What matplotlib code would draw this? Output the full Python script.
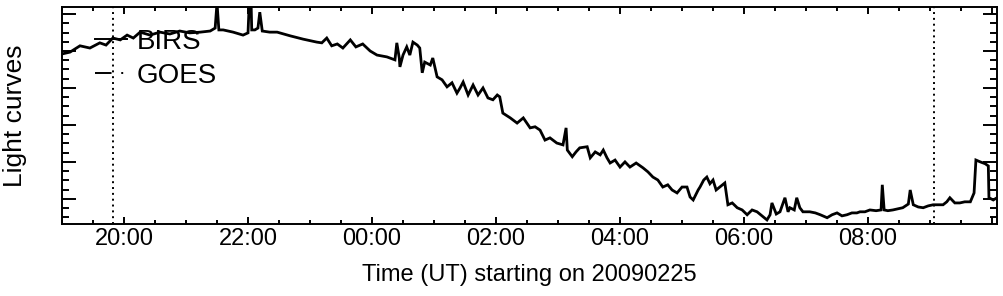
import numpy as np
import matplotlib
matplotlib.use('Agg')
import matplotlib.pyplot as plt
from matplotlib.ticker import MultipleLocator, FuncFormatter
from matplotlib.lines import Line2D

plt.rcParams['font.family'] = ['Liberation Sans', 'DejaVu Sans']

# время в часах от 00:00 UT 2009-02-25 (после 24 - следующие сутки)
t_birs = [19.00, 19.13, 19.29, 19.45, 19.61, 19.71, 19.82, 19.94, 20.05, 20.15,
          20.26, 20.42, 20.58, 20.74, 20.90, 21.06, 21.23, 21.39, 21.47, 21.50,
          21.53, 21.60, 21.76, 21.92, 22.00, 22.02, 22.05, 22.06, 22.11, 22.16,
          22.19, 22.23, 22.35, 22.47, 22.68, 22.89, 23.11, 23.19, 23.27, 23.35,
          23.44, 23.53, 23.65, 23.74, 23.85, 23.97, 24.08, 24.24, 24.37, 24.40,
          24.44, 24.45, 24.50, 24.56, 24.61, 24.66, 24.73, 24.77, 24.81, 24.85,
          24.94, 24.98, 25.05, 25.13, 25.21, 25.29, 25.37, 25.42, 25.47, 25.55,
          25.63, 25.71, 25.79, 25.87, 25.95, 26.02, 26.06, 26.11, 26.23, 26.34,
          26.44, 26.55, 26.63, 26.71, 26.79, 26.87, 26.98, 27.08, 27.13, 27.15,
          27.23, 27.29, 27.35, 27.47, 27.52, 27.60, 27.68, 27.73, 27.79, 27.84,
          27.92, 28.00, 28.08, 28.16, 28.26, 28.37, 28.45, 28.53, 28.61, 28.69,
          28.77, 28.84, 28.92, 29.00, 29.08, 29.13, 29.18, 29.26, 29.29, 29.35,
          29.40, 29.45, 29.50, 29.55, 29.61, 29.69, 29.74, 29.81, 29.89, 29.97,
          30.05, 30.13, 30.21, 30.29, 30.37, 30.42, 30.45, 30.52, 30.58, 30.66,
          30.71, 30.74, 30.81, 30.85, 30.90, 30.95, 31.06, 31.15, 31.23, 31.34,
          31.42, 31.50, 31.58, 31.66, 31.74, 31.82, 31.87, 31.95, 32.03, 32.13,
          32.21, 32.23, 32.26, 32.32, 32.40, 32.48, 32.56, 32.65, 32.68, 32.73,
          32.81, 32.89, 32.97, 33.05, 33.13, 33.21, 33.27, 33.32, 33.40, 33.48,
          33.56, 33.65, 33.71, 33.74, 33.81, 33.89, 33.94, 33.95, 34.02, 34.08]

f_birs = [4.92, 4.97, 5.14, 5.08, 5.22, 5.16, 5.35, 5.30, 5.43, 5.35,
          5.51, 5.43, 5.51, 5.46, 5.54, 5.49, 5.51, 5.54, 5.62, 6.30,
          5.57, 5.57, 5.51, 5.43, 5.49, 6.30, 6.30, 5.57, 5.57, 5.62,
          6.05, 5.54, 5.51, 5.51, 5.41, 5.32, 5.24, 5.22, 5.35, 5.14,
          5.19, 5.08, 5.30, 5.11, 5.19, 5.00, 4.89, 4.84, 4.76, 5.22,
          4.81, 4.57, 4.89, 5.11, 4.89, 5.24, 5.16, 5.08, 4.41, 4.70,
          4.62, 4.81, 4.30, 4.22, 4.03, 4.14, 3.86, 4.00, 4.16, 3.81,
          4.08, 3.81, 4.00, 3.73, 3.68, 3.81, 3.76, 3.32, 3.19, 3.05,
          3.19, 2.92, 2.95, 2.86, 2.59, 2.65, 2.51, 2.46, 2.92, 2.32,
          2.14, 2.27, 2.38, 2.41, 2.11, 2.27, 2.19, 2.32, 2.11, 1.97,
          2.05, 1.86, 2.00, 1.86, 1.97, 1.84, 1.73, 1.59, 1.51, 1.32,
          1.38, 1.24, 1.16, 1.32, 1.32, 1.05, 0.97, 1.24, 1.32, 1.51,
          1.59, 1.41, 1.51, 1.24, 1.32, 1.43, 0.84, 0.89, 0.76, 0.70,
          0.57, 0.70, 0.65, 0.54, 0.43, 0.57, 0.89, 0.59, 0.65, 1.03,
          0.65, 0.76, 0.70, 1.03, 0.76, 0.65, 0.65, 0.62, 0.57, 0.49,
          0.57, 0.62, 0.54, 0.57, 0.62, 0.62, 0.65, 0.65, 0.70, 0.68,
          0.70, 1.38, 0.70, 0.68, 0.70, 0.73, 0.76, 0.86, 1.24, 0.84,
          0.78, 0.76, 0.81, 0.84, 0.84, 0.84, 0.92, 1.03, 0.89, 0.89,
          0.92, 0.92, 1.16, 2.05, 2.00, 1.95, 1.89, 1.03, 0.97, 1.03]

# пунктирные отметки времени
marks = [19.82, 33.06]

t_range = [19.0, 34.08]
f_range = [0.32, 6.19]


def hhmm(v, pos):
    # подписи только для 20:00 ... 08:00
    if v > 33:
        return ''
    return '%02d:00' % (int(round(v)) % 24)


fig = plt.figure(figsize=(10.04, 2.96), dpi=100)
ax = fig.add_axes([62 / 1004, 72 / 296, 935 / 1004, 217 / 296])

ax.plot(t_birs, f_birs, color='black', lw=2.0, solid_joinstyle='miter')
for m in marks:
    ax.axvline(m, color='black', lw=1.4, linestyle=(0, (1, 2)))

ax.set_xlim(t_range)
ax.set_ylim(f_range)

ax.xaxis.set_major_locator(MultipleLocator(2))
ax.xaxis.set_minor_locator(MultipleLocator(0.5))
ax.xaxis.set_major_formatter(FuncFormatter(hhmm))
ax.yaxis.set_major_locator(MultipleLocator(1))
ax.yaxis.set_minor_locator(MultipleLocator(0.25))
ax.set_yticklabels([])

ax.tick_params(axis='both', which='both', direction='in', top=True, right=True,
               width=1.4, color='black')
ax.tick_params(axis='x', which='major', length=5, pad=3, labelsize=17)
ax.tick_params(axis='x', which='minor', length=3)
ax.tick_params(axis='y', which='major', length=10)
ax.tick_params(axis='y', which='minor', length=5)
for s in ax.spines.values():
    s.set_linewidth(1.4)

ax.set_xlabel('Time (UT) starting on 20090225', fontsize=17, labelpad=10)
ax.set_ylabel('Light curves', fontsize=19, labelpad=22)

handles = [Line2D([], [], color='black', lw=1.4),
           Line2D([], [], color='black', lw=1.4, linestyle=(0, (8.5, 5, 1, 5)))]
ax.legend(handles, ['BIRS', 'GOES'], loc='upper left', bbox_to_anchor=(0.035, 0.9),
          frameon=False, fontsize=20, handlelength=1.15, handletextpad=0.35,
          labelspacing=0.3, borderpad=0, borderaxespad=0)

fig.savefig('out.png', dpi=100)
